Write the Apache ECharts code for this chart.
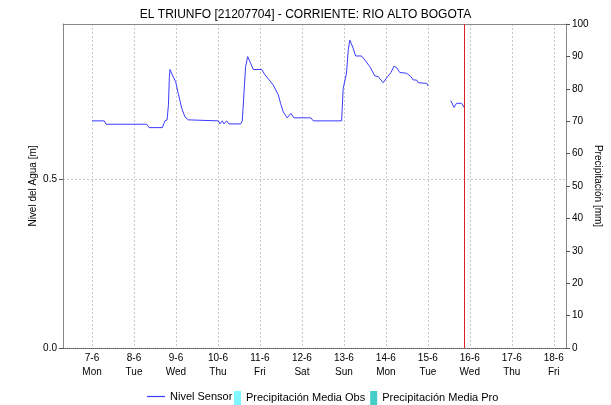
<!DOCTYPE html>
<html>
<head>
<meta charset="utf-8">
<script src="https://cdn.jsdelivr.net/npm/echarts@6/dist/echarts.min.js"></script>
<style>
  html, body { margin: 0; padding: 0; background: #fff; }
  #chart { width: 611px; height: 405px; }
</style>
</head>
<body>
<div id="chart"></div>
<script>
// horas desde 7-6 00:00
const horas = [
  0, 7, 8, 31.3, 32.6, 40.2, 41.7, 42.9, 43.7, 44.2, 44.6, 45.9, 47.8, 49.3, 51.3, 53.1, 55, 56,
  72.2, 73.1, 74.5, 75.4, 77, 78.3, 85, 85.9, 87, 87.8, 89, 90.3, 92.2, 97, 98.9, 101.3, 103.6,
  106.5, 107.8, 109.3, 111.6, 113.7, 115.4, 125.1, 126.5, 142.7, 143, 143.6, 145.5, 146.5,
  147.4, 148, 149.3, 150.7, 154.1, 156, 158.9, 161.7, 163.6, 166.5, 169, 170.9, 172.7, 174.1,
  176, 179.8, 182.3, 183.6, 185.5, 186.5, 191.3, 192.2, 200, 205.1, 207, 208.4, 211.3, 212.7
];
const nivel = [
  0.672, 0.672, 0.662, 0.662, 0.652, 0.652, 0.672, 0.675, 0.72, 0.80, 0.824, 0.808, 0.788, 0.753, 0.709, 0.684, 0.675, 0.672,
  0.672, 0.663, 0.672, 0.663, 0.672, 0.663, 0.663, 0.672, 0.675, 0.832, 0.862, 0.847, 0.824, 0.824, 0.808, 0.793, 0.778,
  0.749, 0.724, 0.699, 0.681, 0.694, 0.681, 0.681, 0.672, 0.672, 0.704, 0.768, 0.813, 0.882,
  0.911, 0.911, 0.887, 0.864, 0.864, 0.852, 0.832, 0.805, 0.803, 0.785, 0.803, 0.815, 0.834, 0.830,
  0.815, 0.813, 0.803, 0.793, 0.793, 0.785, 0.783, 0.775, null, 0.732, 0.712, 0.724, 0.724, 0.712
];
const precipObs = [];
const precipPro = [];
const diasTicks = [0, 24, 48, 72, 96, 120, 144, 168, 192, 216, 240, 264];
const diasSemana = ["Mon", "Tue", "Wed", "Thu", "Fri", "Sat", "Sun", "Mon", "Tue", "Wed", "Thu", "Fri"];
const horaActual = 213;

const chart = echarts.init(document.getElementById("chart"));
const font = "'Liberation Sans', Arial, sans-serif";

chart.setOption({
  animation: false,
  textStyle: { fontFamily: font },
  title: {
    text: "EL TRIUNFO [21207704] - CORRIENTE: RIO ALTO BOGOTA",
    left: "center",
    top: 4,
    textStyle: { fontSize: 12, fontWeight: "normal", color: "#000", fontFamily: font },
  },
  grid: { left: 63, right: 45, top: 24, bottom: 57, outerBoundsMode: "none", containLabel: false },
  legend: [
    {
      data: [{ name: "Nivel Sensor", icon: "path://M0,0 L18,0 L18,1.2 L0,1.2 Z" }],
      left: 142,
      top: 386,
      itemWidth: 18,
      itemHeight: 14,
      symbolKeepAspect: true,
      textStyle: { fontSize: 11, color: "#000" },
    },
    {
      data: ["Precipitación Media Obs", "Precipitación Media Pro"],
      left: 229,
      top: 386,
      icon: "rect",
      itemWidth: 7,
      itemHeight: 14,
      itemGap: 5,
      textStyle: { fontSize: 11, color: "#000" },
    },
  ],
  xAxis: [
    {
      type: "value",
      min: -16.6,
      max: 271,
      axisLine: { show: true, onZero: false, lineStyle: { color: "#555", type: "dotted", width: 1 } },
      axisTick: { show: false, customValues: diasTicks },
      axisLabel: {
        customValues: diasTicks,
        fontSize: 10,
        lineHeight: 14,
        color: "#000",
        margin: 3,
        formatter: (v) => {
          const i = Math.round(v / 24);
          return 7 + i + "-6\n" + diasSemana[i];
        },
      },
      splitLine: { show: true, lineStyle: { color: "#c8c8c8", type: [2, 2] } },
    },
    {
      type: "value",
      position: "top",
      min: -16.6,
      max: 271,
      axisLine: { show: true, onZero: false, lineStyle: { color: "#888" } },
      axisTick: { show: false },
      axisLabel: { show: false },
      splitLine: { show: false },
    },
  ],
  yAxis: [
    {
      type: "value",
      min: 0,
      max: 0.9586,
      interval: 0.5,
      name: "Nivel del Agua [m]",
      nameLocation: "middle",
      nameGap: 25,
      nameMoveOverlap: false,
      nameTextStyle: { fontSize: 10, color: "#000" },
      axisLine: { show: true, onZero: false, lineStyle: { color: "#888" } },
      axisTick: { show: true, length: 4, lineStyle: { color: "#555" } },
      axisLabel: {
        showMaxLabel: false,
        fontSize: 10,
        color: "#000",
        margin: 6,
        formatter: (v) => v.toFixed(1),
      },
      splitLine: { show: true, lineStyle: { color: "#c8c8c8", type: [2, 2] } },
    },
    {
      type: "value",
      min: 0,
      max: 100,
      interval: 10,
      position: "right",
      name: "Precipitación [mm]",
      nameLocation: "middle",
      nameGap: 27,
      nameMoveOverlap: false,
      nameRotate: -90,
      nameTextStyle: { fontSize: 10, color: "#000" },
      axisLine: { show: true, onZero: false, lineStyle: { color: "#888" } },
      axisTick: { show: true, length: 4, lineStyle: { color: "#555" } },
      axisLabel: { fontSize: 10, color: "#000", margin: 6 },
      splitLine: { show: false },
    },
  ],
  series: [
    {
      name: "Nivel Sensor",
      type: "line",
      data: horas.map((h, i) => [h, nivel[i]]),
      showSymbol: false,
      symbol: "none",
      connectNulls: false,
      color: "#3a3aff",
      lineStyle: { width: 1, color: "#3a3aff" },
      markLine: {
        silent: true,
        symbol: ["none", "none"],
        label: { show: false },
        lineStyle: { color: "#e02020", width: 1, type: "solid" },
        data: [{ xAxis: horaActual, lineStyle: { color: "#e02020" } }],
      },
    },
    {
      name: "Precipitación Media Obs",
      type: "bar",
      yAxisIndex: 1,
      color: "#7ff7ff",
      data: precipObs,
    },
    {
      name: "Precipitación Media Pro",
      type: "bar",
      yAxisIndex: 1,
      color: "#45cdc8",
      data: precipPro,
    },
  ],
});
</script>
</body>
</html>
